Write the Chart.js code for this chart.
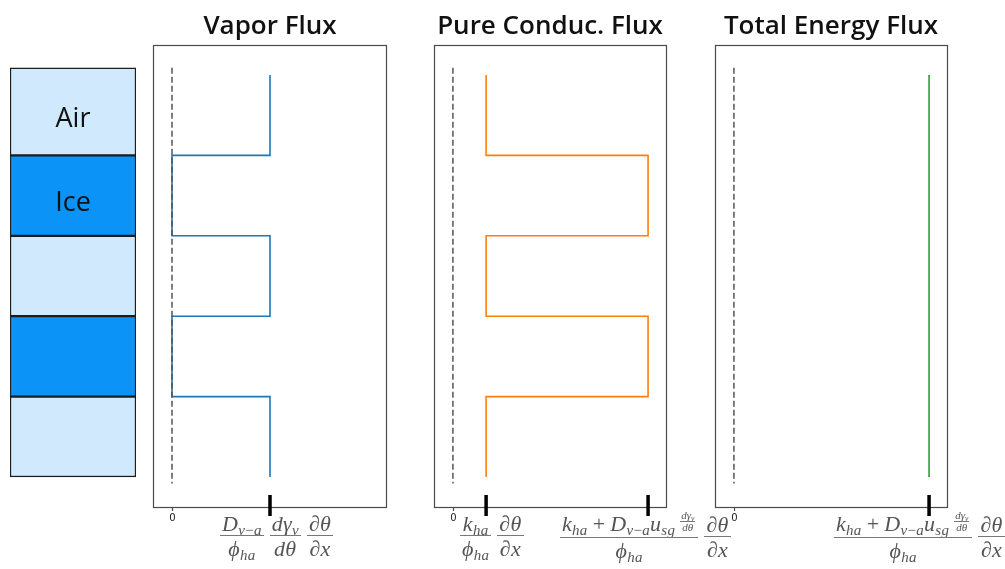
<!DOCTYPE html>
<html lang="en">
<head>
  <meta charset="UTF-8" />
  <title>Vapor / Conduction / Total Energy Flux</title>
  <script src="https://cdn.jsdelivr.net/npm/chart.js"></script>
  <style>
    *{margin:0;padding:0;box-sizing:border-box}
    body{background:#fff;width:1005px;height:569px;overflow:hidden}
    #wrap{position:relative;width:1005px;height:569px}
    #wrap canvas{position:absolute;left:0;top:0}
    .title{position:absolute;top:8px;width:300px;text-align:center;font-family:'Open Sans',sans-serif;font-weight:600;font-size:26px;line-height:32px;color:#111}
    .math{position:absolute;top:512px;display:flex;align-items:center;white-space:nowrap;letter-spacing:0.3px;
      font-family:'Liberation Serif','DejaVu Serif',serif;font-style:italic;font-size:22px;color:#555}
    .fr{display:inline-flex;flex-direction:column;align-items:stretch;text-align:center;margin:0 3px}
    .fr>span{line-height:23px;padding:0 2px}
    .fr>span+span{border-top:1px solid #777;padding-top:1px}
    .fr.small{font-size:11px;letter-spacing:0;margin:0 1px 0 5px;vertical-align:middle;position:relative;top:-4px}
    .fr.small>span{line-height:11px;padding:0 1px}
    .fr.small>span+span{padding-top:0}
    sub{font-size:0.68em;vertical-align:-0.3em;line-height:0}
    .up{font-style:normal}
    .op{font-style:normal;margin:0 5px}
  </style>
</head>
<body>
<div id="wrap">
  <canvas id="layerChart" width="1005" height="569"></canvas>
  <canvas id="vaporChart" width="1005" height="569"></canvas>
  <canvas id="conducChart" width="1005" height="569"></canvas>
  <canvas id="totalChart" width="1005" height="569"></canvas>

  <div class="title" style="left:120px">Vapor Flux</div>
  <div class="title" style="left:400px">Pure Conduc. Flux</div>
  <div class="title" style="left:681px">Total Energy Flux</div>

  <div class="math" style="left:217px">
    <span class="fr"><span>D<sub>v<span class="up">−</span>a</sub></span><span>ϕ<sub>ha</sub></span></span>
    <span class="fr"><span>dγ<sub>v</sub></span><span>dθ</span></span>
    <span class="fr"><span><span class="up">∂</span>θ</span><span><span class="up">∂</span>x</span></span>
  </div>
  <div class="math" style="left:457px">
    <span class="fr"><span>k<sub>ha</sub></span><span>ϕ<sub>ha</sub></span></span>
    <span class="fr"><span><span class="up">∂</span>θ</span><span><span class="up">∂</span>x</span></span>
  </div>
  <div class="math" style="left:557px">
    <span class="fr"><span>k<sub>ha</sub><span class="op">+</span>D<sub>v<span class="up">−</span>a</sub>u<sub>sg</sub><span class="fr small"><span>dγ<sub>v</sub></span><span>dθ</span></span></span><span>ϕ<sub>ha</sub></span></span>
    <span class="fr"><span><span class="up">∂</span>θ</span><span><span class="up">∂</span>x</span></span>
  </div>
  <div class="math" style="left:831px">
    <span class="fr"><span>k<sub>ha</sub><span class="op">+</span>D<sub>v<span class="up">−</span>a</sub>u<sub>sg</sub><span class="fr small"><span>dγ<sub>v</sub></span><span>dθ</span></span></span><span>ϕ<sub>ha</sub></span></span>
    <span class="fr"><span><span class="up">∂</span>θ</span><span><span class="up">∂</span>x</span></span>
  </div>
</div>

<script>
  // layers of the snow column (top to bottom), depth in layer units
  const layerNames = ['Air', 'Ice', 'Air', 'Ice', 'Air'];
  const layerLabels = ['Air', 'Ice', '', '', ''];
  const layerEdges = [-0.09, 1, 2, 3, 4, 5];
  const fluxEdges = [0, 1, 2, 3, 4, 5];

  // flux per layer (schematic units, 1 = total energy flux)
  const vaporFlux = [0.5, 0, 0.5, 0, 0.5];
  const conducFlux = [0.17, 1.0, 0.17, 1.0, 0.17];
  const totalFlux = [1, 1, 1, 1, 1];

  const zeroLine = [-0.09, 5.08];
  const vaporTicks = [0.5];
  const conducTicks = [0.17, 1.0];
  const totalTicks = [1.0];

  const X_MIN = -0.097, X_MAX = 1.097;
  const Y_MIN = -0.373, Y_MAX = 5.373;

  function stepPoints(vals) {
    const pts = [];
    vals.forEach((v, i) => {
      pts.push({ x: v, y: fluxEdges[i] });
      pts.push({ x: v, y: fluxEdges[i + 1] });
    });
    return pts;
  }

  const panelDeco = {
    id: 'panelDeco',
    afterDraw(chart, args, opts) {
      const { ctx, chartArea: a, scales: { x } } = chart;
      ctx.save();
      ctx.strokeStyle = '#4a4a4a';
      ctx.lineWidth = 1.2;
      ctx.strokeRect(a.left + 0.5, a.top + 0.5, a.right - a.left - 1, a.bottom - a.top);
      // zero tick + label
      const x0 = Math.round(x.getPixelForValue(0)) + 0.5;
      ctx.beginPath();
      ctx.moveTo(x0, a.bottom);
      ctx.lineTo(x0, a.bottom + 4);
      ctx.stroke();
      ctx.fillStyle = '#222';
      ctx.font = '10px "DejaVu Sans", sans-serif';
      ctx.textAlign = 'center';
      ctx.textBaseline = 'top';
      ctx.fillText('0', x0, a.bottom + 6);
      // thick ticks at the flux values
      ctx.strokeStyle = '#000';
      ctx.lineWidth = 3.5;
      opts.ticks.forEach(t => {
        const px = x.getPixelForValue(t);
        ctx.beginPath();
        ctx.moveTo(px, a.bottom - 12);
        ctx.lineTo(px, a.bottom + 9);
        ctx.stroke();
      });
      ctx.restore();
    }
  };

  function makePanel(id, values, color, ticks, pad) {
    new Chart(document.getElementById(id), {
      type: 'scatter',
      data: {
        datasets: [
          {
            data: [{ x: 0, y: zeroLine[0] }, { x: 0, y: zeroLine[1] }],
            showLine: true, borderColor: '#555', borderWidth: 1.5,
            borderDash: [6, 3], pointRadius: 0
          },
          {
            data: stepPoints(values),
            showLine: true, borderColor: color, borderWidth: 1.6,
            pointRadius: 0, tension: 0
          }
        ]
      },
      options: {
        responsive: false,
        animation: false,
        layout: { padding: pad },
        plugins: { legend: { display: false }, tooltip: { enabled: false }, panelDeco: { ticks } },
        scales: {
          x: { type: 'linear', min: X_MIN, max: X_MAX, display: false },
          y: { type: 'linear', min: Y_MIN, max: Y_MAX, reverse: true, display: false }
        }
      },
      plugins: [panelDeco]
    });
  }

  makePanel('vaporChart', vaporFlux, '#1f77b4', vaporTicks, { left: 153, right: 618, top: 45, bottom: 62 });
  makePanel('conducChart', conducFlux, '#ff7f0e', conducTicks, { left: 434, right: 338, top: 45, bottom: 62 });
  makePanel('totalChart', totalFlux, '#2ca02c', totalTicks, { left: 715, right: 57, top: 45, bottom: 62 });

  // layer column on the left
  const layerText = {
    id: 'layerText',
    afterDatasetsDraw(chart) {
      const { ctx } = chart;
      ctx.save();
      ctx.fillStyle = '#111';
      ctx.font = '27px "Open Sans", sans-serif';
      ctx.textAlign = 'center';
      ctx.textBaseline = 'middle';
      chart.data.datasets.forEach((ds, i) => {
        const el = chart.getDatasetMeta(i).data[0];
        if (!layerLabels[i]) return;
        ctx.fillText(layerLabels[i], el.x, (el.y + el.base) / 2 + 8);
      });
      ctx.restore();
    }
  };

  new Chart(document.getElementById('layerChart'), {
    type: 'bar',
    data: {
      labels: ['column'],
      datasets: layerNames.map((name, i) => ({
        label: name,
        data: [[layerEdges[i], layerEdges[i + 1]]],
        backgroundColor: name === 'Ice' ? '#0b93f8' : '#d0e9fc',
        borderColor: '#1c1c1c',
        borderWidth: 1.5,
        borderSkipped: false,
        barPercentage: 1,
        categoryPercentage: 1
      }))
    },
    options: {
      responsive: false,
      animation: false,
      grouped: false,
      layout: { padding: { left: 10, right: 869, top: 45, bottom: 62 } },
      plugins: { legend: { display: false }, tooltip: { enabled: false } },
      scales: {
        x: { display: false },
        y: { type: 'linear', min: Y_MIN, max: Y_MAX, reverse: true, display: false }
      }
    },
    plugins: [layerText]
  });
</script>
</body>
</html>
